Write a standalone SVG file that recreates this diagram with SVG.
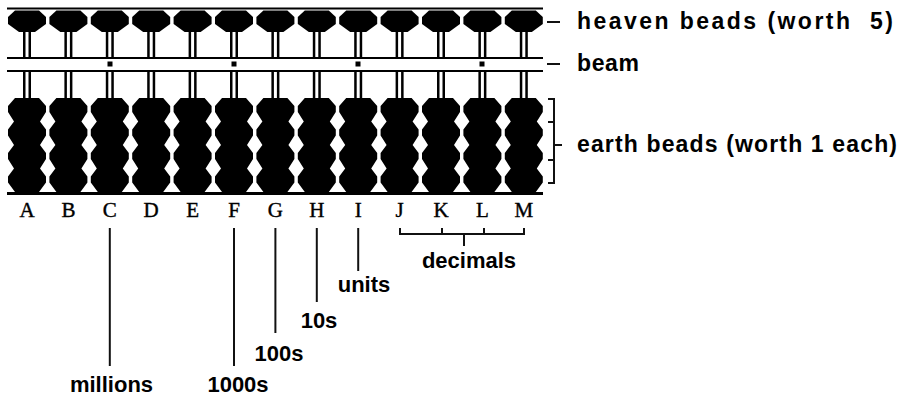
<svg xmlns="http://www.w3.org/2000/svg" xmlns:xlink="http://www.w3.org/1999/xlink" width="902" height="397" viewBox="0 0 902 397">
<style>
.lbl{font-family:"Liberation Sans",Arial,sans-serif;font-weight:bold;font-size:22px;fill:#000}
.side{font-family:"Liberation Sans",Arial,sans-serif;font-weight:bold;font-size:23px;fill:#000;white-space:pre}
.ltr{font-family:"Liberation Serif","Times New Roman",serif;font-size:21px;fill:#000;stroke:#000;stroke-width:0.4;text-anchor:middle}
.ln{stroke:#111;stroke-width:2;fill:none}
</style>
<defs>
<g id="col">
<path d="M-12,10.5 H12 L19,17 V24 L8,32 H-8 L-19,24 V17 Z"/>
<rect x="-4" y="32" width="2.5" height="25"/>
<rect x="1.5" y="32" width="2.5" height="25"/>
<rect x="-4" y="72" width="2.5" height="27"/>
<rect x="1.5" y="72" width="2.5" height="27"/>
<path d="M-12,98 H12 L19,106 V112 L13,121.5 L19,129.5 V135.5 L13,145 L19,153 V159 L13,168.5 L19,176.5 V182.5 L12,192 H-12 L-19,182.5 V176.5 L-13,168.5 L-19,159 V153 L-13,145 L-19,135.5 V129.5 L-13,121.5 L-19,112 V106 Z"/>
</g>
<rect id="dot" x="-2.5" y="61.5" width="5" height="5"/>
</defs>
<g id="frame" fill="#000">
<rect x="7" y="7.5" width="536" height="2"/>
<rect x="7" y="57" width="536" height="2"/>
<rect x="7" y="70" width="536" height="2"/>
<rect x="7" y="192" width="536" height="3"/>
<use xlink:href="#dot" x="110"/>
<use xlink:href="#dot" x="234"/>
<use xlink:href="#dot" x="358"/>
<use xlink:href="#dot" x="482"/>
</g>
<g id="columns" fill="#000">
<g id="colA"><use xlink:href="#col" x="27"/><text class="ltr" x="27" y="217">A</text></g>
<g id="colB"><use xlink:href="#col" x="68.4"/><text class="ltr" x="68.4" y="217">B</text></g>
<g id="colC"><use xlink:href="#col" x="109.8"/><text class="ltr" x="109.8" y="217">C</text></g>
<g id="colD"><use xlink:href="#col" x="151.2"/><text class="ltr" x="151.2" y="217">D</text></g>
<g id="colE"><use xlink:href="#col" x="192.6"/><text class="ltr" x="192.6" y="217">E</text></g>
<g id="colF"><use xlink:href="#col" x="234"/><text class="ltr" x="234" y="217">F</text></g>
<g id="colG"><use xlink:href="#col" x="275.4"/><text class="ltr" x="275.4" y="217">G</text></g>
<g id="colH"><use xlink:href="#col" x="316.8"/><text class="ltr" x="316.8" y="217">H</text></g>
<g id="colI"><use xlink:href="#col" x="358.2"/><text class="ltr" x="358.2" y="217">I</text></g>
<g id="colJ"><use xlink:href="#col" x="399.6"/><text class="ltr" x="399.6" y="217">J</text></g>
<g id="colK"><use xlink:href="#col" x="441"/><text class="ltr" x="441" y="217">K</text></g>
<g id="colL"><use xlink:href="#col" x="482.4"/><text class="ltr" x="482.4" y="217">L</text></g>
<g id="colM"><use xlink:href="#col" x="523.8"/><text class="ltr" x="523.8" y="217">M</text></g>
</g>
<g id="connectors" class="ln">
<line x1="547" y1="22" x2="560" y2="22"/>
<line x1="547" y1="64" x2="560" y2="64"/>
<polyline points="548,99 554,99 554,183 548,183"/>
<line x1="548" y1="122" x2="554" y2="122"/>
<line x1="548" y1="160" x2="554" y2="160"/>
<line x1="554" y1="145" x2="562" y2="145"/>
<line x1="109.8" y1="228" x2="109.8" y2="366"/>
<line x1="234" y1="228" x2="234" y2="366"/>
<line x1="275.4" y1="228" x2="275.4" y2="333"/>
<line x1="316.8" y1="228" x2="316.8" y2="302"/>
<line x1="358.2" y1="228" x2="358.2" y2="271"/>
<polyline points="400,228 400,234 524,234 524,228"/>
<line x1="442" y1="228" x2="442" y2="234"/>
<line x1="484" y1="228" x2="484" y2="234"/>
<line x1="464" y1="234" x2="464" y2="246"/>
</g>
<g id="labels">
<text class="side" x="577" y="29" textLength="316" lengthAdjust="spacing">heaven beads (worth  5)</text>
<text class="side" x="577" y="71" textLength="62" lengthAdjust="spacing">beam</text>
<text class="side" x="577" y="152" textLength="320" lengthAdjust="spacing">earth beads (worth 1 each)</text>
<text class="lbl" x="469" y="268" text-anchor="middle">decimals</text>
<text class="lbl" x="364" y="292" text-anchor="middle">units</text>
<text class="lbl" x="319" y="328" text-anchor="middle">10s</text>
<text class="lbl" x="279" y="361" text-anchor="middle">100s</text>
<text class="lbl" x="238" y="392" text-anchor="middle">1000s</text>
<text class="lbl" x="111.5" y="392" text-anchor="middle">millions</text>
</g>
</svg>
